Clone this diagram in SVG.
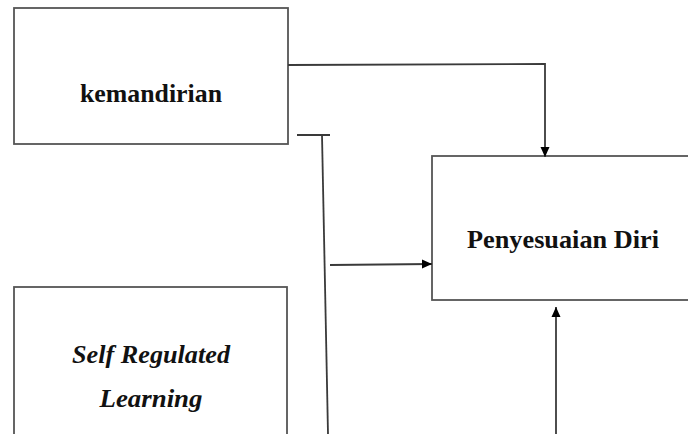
<svg xmlns="http://www.w3.org/2000/svg" width="688" height="434" viewBox="0 0 688 434">
<defs>
<style>
.box{fill:#fff;stroke:#555;stroke-width:1.8}
.ln{fill:none;stroke:#3a3a3a;stroke-width:1.8}
.t{font-family:"Liberation Serif","Times New Roman",serif;font-weight:bold;font-size:26px;fill:#111;text-anchor:middle}
.it{font-style:italic}
</style>
<marker id="ah" viewBox="0 0 10 10" refX="10" refY="5" markerWidth="10" markerHeight="10" markerUnits="userSpaceOnUse" orient="auto">
<path d="M0,0.5 L10,5 L0,9.5 z" fill="#000"/>
</marker>
</defs>
<rect width="688" height="434" fill="#fff"/>
<g id="kemandirian">
<rect class="box" x="14" y="8" width="274" height="136"/>
<text class="t" x="151" y="102" textLength="142" lengthAdjust="spacingAndGlyphs">kemandirian</text>
</g>
<g id="penyesuaian">
<rect class="box" x="432" y="156" width="270" height="144"/>
<text class="t" x="563" y="248" textLength="192" lengthAdjust="spacingAndGlyphs">Penyesuaian Diri</text>
</g>
<g id="srl">
<rect class="box" x="14" y="287" width="273" height="160"/>
<text class="t it" x="151" y="363" textLength="158" lengthAdjust="spacingAndGlyphs">Self Regulated</text>
<text class="t it" x="151" y="407" textLength="103" lengthAdjust="spacingAndGlyphs">Learning</text>
</g>
<g id="connectors">
<polyline class="ln" points="288,65 545,64 545,157" marker-end="url(#ah)"/>
<line class="ln" x1="297" y1="135" x2="330" y2="135"/>
<line class="ln" x1="322" y1="135" x2="328" y2="434"/>
<line class="ln" x1="330" y1="265" x2="432" y2="264" marker-end="url(#ah)"/>
<line class="ln" x1="556" y1="434" x2="556" y2="307" marker-end="url(#ah)"/>
</g>
</svg>
